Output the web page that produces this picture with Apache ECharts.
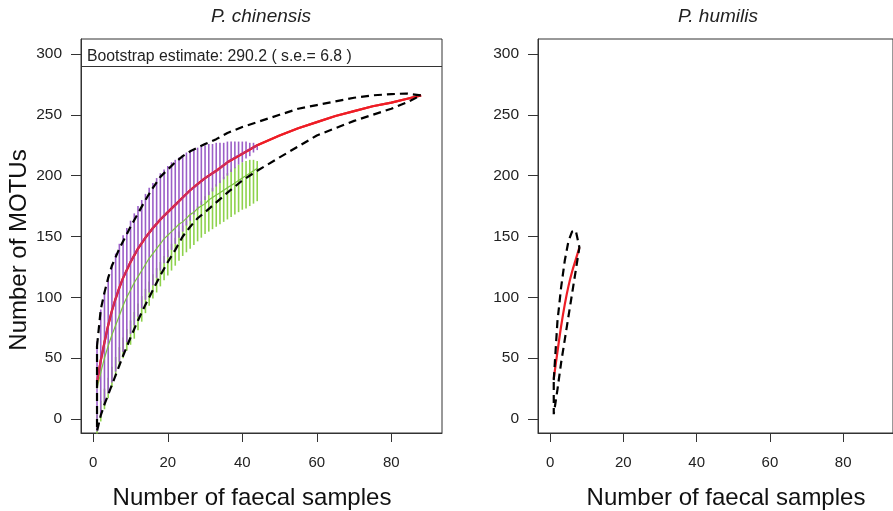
<!DOCTYPE html>
<html><head><meta charset="utf-8">
<script src="https://cdn.jsdelivr.net/npm/echarts@6/dist/echarts.min.js"></script>
<style>html,body{margin:0;padding:0;background:#fff}#chart{width:893px;height:511px}</style>
</head><body><div id="chart"></div>
<script>
// ---- P. chinensis: pooled accumulation curve (all samples) ----
const chinX     = [1,2,3,4,5,6,7,8,10,12,14,16,18,20,22,24,26,28,30,33,36,40,44,50,55,60,65,70,75,80,84,88];
const chinMean  = [30,48,63,77,89,99,108,116,129,140,149,157,164,170,176,182,188,193,198,204,211,218,225,233,239,244,249,253,257,260,263,266];
const chinUpper = [60,90,104,116,126,133,140,146,158,169,180,190,199,205,211,216,220,223,226,230,235,240,244,250,255,258,261,264,266,267,267.5,266];
const chinLower = [-10,3,12,20,28,36,44,52,67,81,94,106,118,129,139,150,158,165,170,178,186,196,204,215,224,233,239,245,250,255,260,266];

// ---- P. chinensis: two sample groups (x = 1..44) ----
const groupX = [1,2,3,4,5,6,7,8,9,10,11,12,13,14,15,16,17,18,19,20,21,22,23,24,25,26,27,28,29,30,31,32,33,34,35,36,37,38,39,40,41,42,43,44];
const purpleTop = [64,90,104,117,127,136,144,151,157,163,169,175,180,185,190,194,198,202,205,208,211,213,215,217,219,220,222,223,224,225,226,226,227,227,227,228,228,228,228,228,228,227,227,226];
const purpleBot = [-10,2,12,21,30,39,47,55,63,70,77,84,91,98,104,110,116,122,128,133,139,144,149,154,159,163,168,172,176,180,184,187,191,194,197,200,203,206,209,211,214,216,219,221];
const purpleMean = [30,48,63,77,89,99,108,116,123,129,135,140,145,149,153,157,161,164,167,170,173,176,179,182,185,188,190,193,195,198,200,202,204,206,209,211,213,215,217,218,220,222,223,225];
const greenTop  = [5,15,25,34,43,51,59,67,74,81,88,95,101,107,113,119,124,129,134,139,144,149,154,159,163,167,171,175,179,183,187,190,193,196,199,202,205,207,209,211,212,213,213,212];
const greenBot  = [-12,-2,8,17,26,35,43,50,56,61,66,73,80,87,93,99,104,109,114,118,122,126,130,134,137,140,143,146,149,152,154,156,158,160,162,164,166,168,170,172,173,175,177,179];
const greenMean = [25,38,50,60,69,77,85,93,100,106,112,117,122,127,132,136,140,144,148,151,154,157,160,162,165,168,170,173,175,177,180,182,184,186,188,190,192,194,196,198,200,202,204,206];

// Bootstrap richness estimate shown on the first panel
const bootEstimate = 290.2;
const bootSE = 6.8;

// ---- P. humilis ----
const humX     = [1,2,3,4,5,6,7,8];
const humMean  = [33,55,76,94,109,121,131,141];
const humUpper = [32,80,108,130,146,154,155,141];
const humLower = [4,24,46,65,84,103,122,141];

const xTicks = [0,20,40,60,80];
const yTicks = [0,50,100,150,200,250,300];
const xRange = [-3.3, 93.6];
const yRange = [-11.5, 312.3];

const pairs = (xs, ys) => xs.map((x, i) => [x, ys[i]]);
// dashed outline: upper bound forward, lower bound back, closed at the first sample
const outline = (xs, up, lo) => {
  const pts = pairs(xs, up);
  for (let i = xs.length - 2; i >= 0; i--) pts.push([xs[i], lo[i]]);
  pts.push([xs[0], up[0]]);
  return pts;
};
const ranges = (xs, lo, hi) => xs.map((x, i) => [x, lo[i], hi[i]]);

const FONT = '"Liberation Sans", Arial, Helvetica, sans-serif';
const INK = '#222';

function xAxisDef(gi) {
  return {
    type: 'value', gridIndex: gi, min: xRange[0], max: xRange[1],
    axisLine: { show: true, onZero: false, lineStyle: { color: '#333', width: 1 } },
    axisTick: { show: true, length: 9, customValues: xTicks, lineStyle: { color: '#333' } },
    axisLabel: { customValues: xTicks, margin: 22, fontSize: 15, color: INK, fontFamily: FONT },
    splitLine: { show: false }
  };
}
function yAxisDef(gi) {
  return {
    type: 'value', gridIndex: gi, min: yRange[0], max: yRange[1],
    axisLine: { show: true, onZero: false, lineStyle: { color: '#333', width: 1 } },
    axisTick: { show: true, length: 10, customValues: yTicks, lineStyle: { color: '#333' } },
    axisLabel: { customValues: yTicks, margin: 19, fontSize: 15.5, color: INK, fontFamily: FONT },
    splitLine: { show: false }
  };
}

function segItem(params, api) {
  const x = api.value(0);
  const a = api.coord([x, api.value(1)]);
  const b = api.coord([x, api.value(2)]);
  return {
    type: 'line',
    shape: { x1: a[0], y1: a[1], x2: b[0], y2: b[1] },
    style: { stroke: api.visual('color'), lineWidth: 1.6 }
  };
}

const dashStyle = { color: '#000', width: 2.2, type: [8, 5] };

const chart = echarts.init(document.getElementById('chart'), null, { renderer: 'canvas' });
chart.setOption({
  animation: false,
  backgroundColor: '#fff',
  grid: [
    { left: 81, top: 39, width: 361, height: 394, show: true, borderColor: '#333', borderWidth: 1, backgroundColor: 'transparent' },
    { left: 538, top: 39, width: 362, height: 394, show: true, borderColor: '#333', borderWidth: 1, backgroundColor: 'transparent' }
  ],
  xAxis: [xAxisDef(0), xAxisDef(1)],
  yAxis: [yAxisDef(0), yAxisDef(1)],
  series: [
    { type: 'line', xAxisIndex: 0, yAxisIndex: 0, data: pairs(chinX, chinMean), showSymbol: false,
      lineStyle: { color: '#ee1d25', width: 2.2 }, z: 2,
      markLine: { silent: true, symbol: 'none', label: { show: false },
        lineStyle: { color: '#333', width: 1, type: 'solid' }, data: [{ yAxis: bootEstimate }] } },
    { type: 'custom', xAxisIndex: 0, yAxisIndex: 0, renderItem: segItem, data: ranges(groupX, greenBot, greenTop),
      itemStyle: { color: '#8ed24c' }, encode: { x: 0, y: [1, 2] }, z: 3 },
    { type: 'custom', xAxisIndex: 0, yAxisIndex: 0, renderItem: segItem, data: ranges(groupX, purpleBot, purpleTop),
      itemStyle: { color: '#9b5fc8' }, encode: { x: 0, y: [1, 2] }, z: 4 },
    { type: 'line', xAxisIndex: 0, yAxisIndex: 0, data: pairs(groupX, greenMean), showSymbol: false, smooth: 0.3,
      lineStyle: { color: '#7cc242', width: 1.2 }, z: 5 },
    { type: 'line', xAxisIndex: 0, yAxisIndex: 0, data: pairs(chinX, chinMean), showSymbol: false,
      lineStyle: { color: '#ee1d25', width: 2.2 }, z: 6 },
    { type: 'line', xAxisIndex: 0, yAxisIndex: 0, data: pairs(groupX, purpleMean), showSymbol: false, smooth: 0.3,
      lineStyle: { color: 'rgba(140,70,200,0.45)', width: 1.2 }, z: 7 },
    { type: 'line', xAxisIndex: 0, yAxisIndex: 0, data: outline(chinX, chinUpper, chinLower), showSymbol: false,
      lineStyle: dashStyle, z: 8 },
    { type: 'line', xAxisIndex: 1, yAxisIndex: 1, data: pairs(humX, humMean), showSymbol: false, smooth: 0.3,
      lineStyle: { color: '#ee1d25', width: 2.2 }, z: 6 },
    { type: 'line', xAxisIndex: 1, yAxisIndex: 1, data: outline(humX, humUpper, humLower), showSymbol: false,
      lineStyle: dashStyle, z: 8 }
  ],
  graphic: [
    { type: 'text', left: 87, top: 49, z: 20,
      style: { text: 'Bootstrap estimate: ' + bootEstimate.toFixed(1) + ' ( s.e.= ' + bootSE + ' )', fontSize: 15.8, fontFamily: FONT, fill: INK } },
    { type: 'text', x: 261, y: 17, z: 20,
      style: { text: 'P. chinensis', fontSize: 19, fontStyle: 'italic', fontFamily: FONT, fill: INK, align: 'center', verticalAlign: 'middle' } },
    { type: 'text', x: 718, y: 17, z: 20,
      style: { text: 'P. humilis', fontSize: 19, fontStyle: 'italic', fontFamily: FONT, fill: INK, align: 'center', verticalAlign: 'middle' } },
    { type: 'text', x: 19, y: 250, rotation: Math.PI / 2, z: 20,
      style: { text: 'Number of MOTUs', fontSize: 24, fontFamily: FONT, fill: '#111', align: 'center', verticalAlign: 'middle' } },
    { type: 'text', x: 252, y: 498, z: 20,
      style: { text: 'Number of faecal samples', fontSize: 24, fontFamily: FONT, fill: '#111', align: 'center', verticalAlign: 'middle' } },
    { type: 'text', x: 726, y: 498, z: 20,
      style: { text: 'Number of faecal samples', fontSize: 24, fontFamily: FONT, fill: '#111', align: 'center', verticalAlign: 'middle' } }
  ]
});
</script></body></html>
